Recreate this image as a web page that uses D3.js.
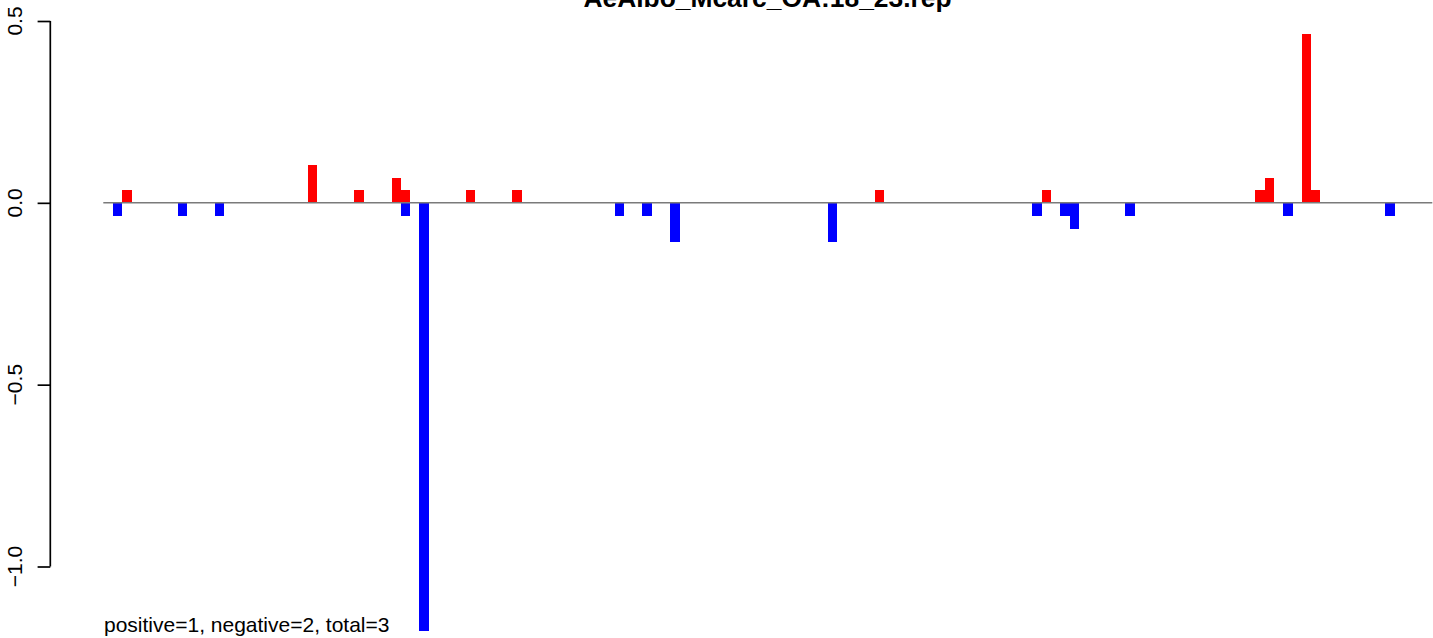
<!DOCTYPE html>
<html>
<head>
<meta charset="utf-8">
<script src="https://cdn.jsdelivr.net/npm/d3@7/dist/d3.min.js"></script>
<style>
  html, body { margin: 0; padding: 0; background: #fff; }
  svg { display: block; }
</style>
</head>
<body>
<svg id="chart" width="1433" height="638"></svg>
<script>
// ---- data ----
const title = "AeAlbo_Mcarc_OA:18_23.rep";
const footnote = "positive=1, negative=2, total=3";
const yTicks = [0.5, 0.0, -0.5, -1.0];
const yTickLabels = ["0.5", "0.0", "\u22120.5", "\u22121.0"];

// positive (red) series: slot positions and values
const posSlots  = [1, 21, 26, 30, 31, 38, 43, 82, 100, 123, 124, 128, 129];
const posValues = [0.034, 0.105, 0.034, 0.069, 0.034, 0.034, 0.034, 0.034, 0.034, 0.034, 0.069, 0.463, 0.034];

// negative (blue) series: slot positions and values
const negSlots  = [0, 7, 11, 31, 33, 54, 57, 60, 77, 99, 102, 103, 109, 126, 137];
const negValues = [-0.037, -0.037, -0.037, -0.037, -1.178, -0.037, -0.037, -0.108, -0.108, -0.037, -0.037, -0.073, -0.037, -0.037, -0.037];

// ---- layout ----
const svg = d3.select("#chart");
const font = "'Liberation Sans', Arial, Helvetica, sans-serif";

const x = d3.scaleLinear().domain([-1.04, 142.05]).range([103.3, 1432.3]);
const y = d3.scaleLinear().domain([-1.0, 0.5]).range([566.5, 21]);

const pos = posSlots.map((s, i) => ({ s, v: posValues[i] }));
const neg = negSlots.map((s, i) => ({ s, v: negValues[i] }));

function drawBars(data, color) {
  svg.append("g").selectAll("rect").data(data).join("rect")
    .attr("x", d => x(d.s))
    .attr("width", d => x(d.s + 1) - x(d.s))
    .attr("y", d => y(Math.max(0, d.v)))
    .attr("height", d => Math.abs(y(d.v) - y(0)))
    .attr("fill", color)
    .attr("shape-rendering", "crispEdges");
}
drawBars(pos, "#FF0000");
drawBars(neg, "#0000FF");

// zero line
svg.append("line")
  .attr("x1", x(-1.04)).attr("x2", x(142.05))
  .attr("y1", y(0)).attr("y2", y(0))
  .attr("stroke", "#7a7a7a").attr("stroke-width", 1.5);

// y axis (R style)
const yAxis = d3.axisLeft(y).tickValues(yTicks).tickSize(12.7).tickFormat("");
const gy = svg.append("g").attr("transform", "translate(50.3,0)").call(yAxis);
gy.selectAll("path, line").attr("stroke", "#000").attr("stroke-width", 1.7);
gy.select(".domain").attr("d", `M0,${y(0.5)}V${y(-1.0)}`);

svg.append("g").selectAll("text").data(yTicks).join("text")
  .attr("transform", d => `translate(22,${y(d)}) rotate(-90)`)
  .attr("text-anchor", "middle")
  .attr("font-family", font)
  .attr("font-size", 21)
  .attr("fill", "#000")
  .text((d, i) => yTickLabels[i]);

// title (clipped at top)
svg.append("text")
  .attr("x", 767.5).attr("y", 7.3)
  .attr("text-anchor", "middle")
  .attr("font-family", font)
  .attr("font-weight", "bold")
  .attr("font-size", 26.4)
  .attr("fill", "#000")
  .text(title);

// footnote
svg.append("text")
  .attr("x", 104).attr("y", 631.5)
  .attr("font-family", font)
  .attr("font-size", 21)
  .attr("fill", "#000")
  .text(footnote);
</script>
</body>
</html>
